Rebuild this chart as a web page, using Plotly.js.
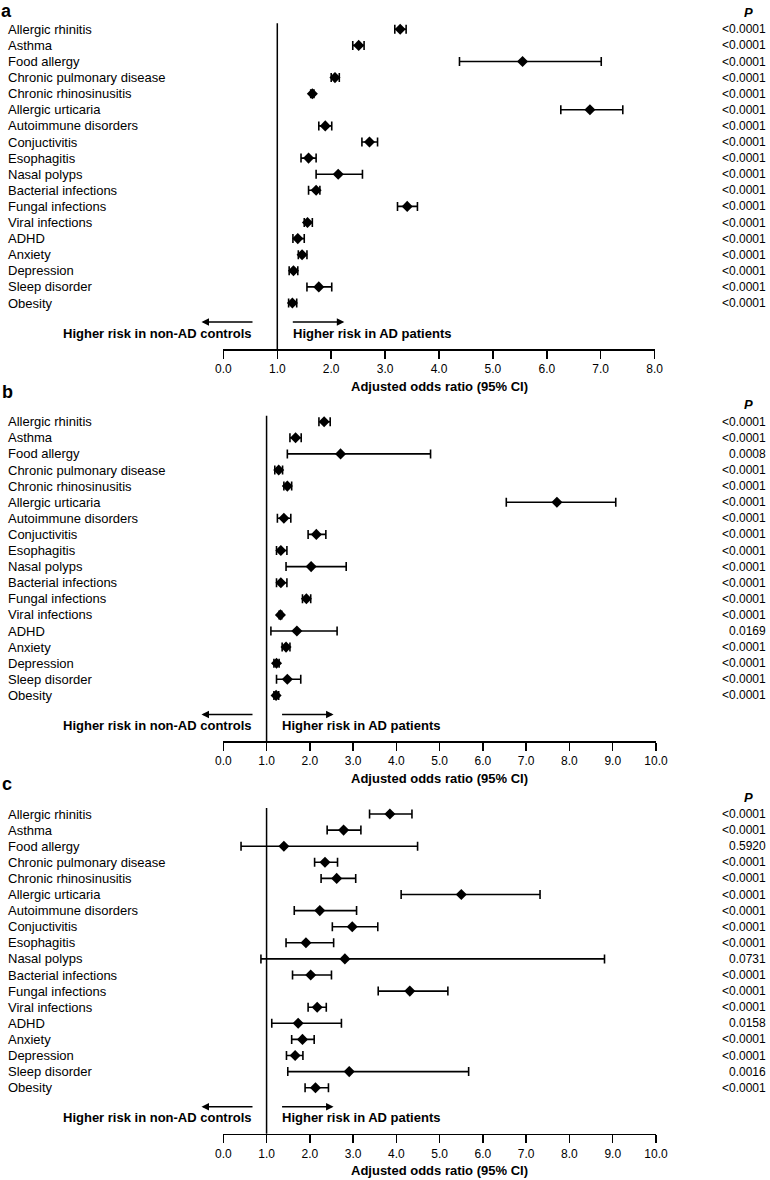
<!DOCTYPE html>
<html>
<head>
<meta charset="utf-8">
<script src="https://cdn.plot.ly/plotly-3.0.1.min.js"></script>
<style>html,body{margin:0;padding:0;background:#fff;}#chart{width:770px;height:1180px;}</style>
</head>
<body>
<div id="chart"></div>
<script>
// ---------------- DATA ----------------
const categories = ['Allergic rhinitis','Asthma','Food allergy','Chronic pulmonary disease','Chronic rhinosinusitis','Allergic urticaria','Autoimmune disorders','Conjuctivitis','Esophagitis','Nasal polyps','Bacterial infections','Fungal infections','Viral infections','ADHD','Anxiety','Depression','Sleep disorder','Obesity'];
const panelLetters = ['a','b','c'];
const xTickLabelsA = ['0.0','1.0','2.0','3.0','4.0','5.0','6.0','7.0','8.0'];
const xTickLabelsBC = ['0.0','1.0','2.0','3.0','4.0','5.0','6.0','7.0','8.0','9.0','10.0'];

const orA = [3.28,2.51,5.55,2.07,1.65,6.80,1.89,2.71,1.58,2.13,1.72,3.41,1.56,1.38,1.46,1.30,1.77,1.28];
const loA = [3.18,2.40,4.38,2.00,1.62,6.26,1.77,2.57,1.44,1.72,1.58,3.23,1.50,1.29,1.39,1.22,1.55,1.21];
const hiA = [3.39,2.61,7.01,2.15,1.68,7.41,2.01,2.86,1.72,2.58,1.79,3.60,1.65,1.50,1.55,1.38,2.01,1.36];
const pA  = ['<0.0001','<0.0001','<0.0001','<0.0001','<0.0001','<0.0001','<0.0001','<0.0001','<0.0001','<0.0001','<0.0001','<0.0001','<0.0001','<0.0001','<0.0001','<0.0001','<0.0001','<0.0001'];

const orB = [2.33,1.67,2.71,1.28,1.48,7.71,1.40,2.15,1.33,2.03,1.33,1.92,1.32,1.70,1.45,1.23,1.48,1.22];
const loB = [2.21,1.54,1.48,1.19,1.40,6.54,1.25,1.96,1.23,1.45,1.23,1.83,1.29,1.10,1.36,1.17,1.23,1.17];
const hiB = [2.47,1.80,4.79,1.37,1.58,9.07,1.56,2.37,1.47,2.84,1.47,2.02,1.35,2.63,1.54,1.29,1.79,1.28];
const pB  = ['<0.0001','<0.0001','0.0008','<0.0001','<0.0001','<0.0001','<0.0001','<0.0001','<0.0001','<0.0001','<0.0001','<0.0001','<0.0001','0.0169','<0.0001','<0.0001','<0.0001','<0.0001'];

const orC = [3.85,2.78,1.40,2.35,2.62,5.50,2.23,2.98,1.91,2.81,2.02,4.31,2.17,1.73,1.83,1.66,2.91,2.13];
const loC = [3.38,2.40,0.41,2.11,2.26,4.11,1.64,2.52,1.45,0.87,1.60,3.58,1.96,1.12,1.58,1.46,1.49,1.89];
const hiC = [4.36,3.18,4.49,2.64,3.06,7.32,3.08,3.57,2.55,8.81,2.50,5.19,2.38,2.73,2.10,1.84,5.67,2.43];
const pC  = ['<0.0001','<0.0001','0.5920','<0.0001','<0.0001','<0.0001','<0.0001','<0.0001','<0.0001','0.0731','<0.0001','<0.0001','<0.0001','0.0158','<0.0001','<0.0001','0.0016','<0.0001'];

const axisTitle = 'Adjusted odds ratio (95% CI)';
const leftArrowText = 'Higher risk in non-AD controls';
const rightArrowText = 'Higher risk in AD patients';
const pHeader = 'P';

// ---------------- LAYOUT ----------------
const W = 770, H = 1180;
const FONT = 'Liberation Sans, Arial, Helvetica, sans-serif';
const fx = px => px / W;
const fy = px => 1 - px / H;

const panels = [
  {or: orA, lo: loA, hi: hiA, p: pA, ticks: xTickLabelsA, r0: 29.3, x0: 223.4, x1: 654.6},
  {or: orB, lo: loB, hi: hiB, p: pB, ticks: xTickLabelsBC, r0: 421.7, x0: 223.3, x1: 656.0},
  {or: orC, lo: loC, hi: hiC, p: pC, ticks: xTickLabelsBC, r0: 814.0, x0: 223.3, x1: 656.0}
];
const STEP = 16.1;

const data = [];
const layout = {
  width: W, height: H,
  margin: {l: 0, r: 0, t: 0, b: 0},
  paper_bgcolor: '#ffffff', plot_bgcolor: 'rgba(0,0,0,0)',
  showlegend: false,
  font: {family: FONT, color: '#000', size: 12},
  shapes: [], annotations: []
};

panels.forEach((pn, k) => {
  const sfx = k === 0 ? '' : String(k + 1);
  const xa = 'x' + sfx, ya = 'y' + sfx;
  const n = categories.length;
  const lastRow = pn.r0 + (n - 1) * STEP;
  const top = pn.r0 - 6;
  const axisY = lastRow + 46;
  const rTop = -6 / STEP;
  const rBot = rTop + (axisY - top) / STEP;
  const xmax = pn.ticks.length - 1;
  const tickvals = pn.ticks.map((t, i) => i);

  data.push({
    type: 'scatter', mode: 'markers',
    x: pn.or, y: categories,
    xaxis: xa, yaxis: ya,
    cliponaxis: false,
    marker: {symbol: 'diamond', size: 8.5, color: '#000', line: {width: 0}},
    error_x: {
      type: 'data', symmetric: false,
      array: pn.hi.map((h, i) => h - pn.or[i]),
      arrayminus: pn.lo.map((l, i) => pn.or[i] - l),
      color: '#000', thickness: 1.6, width: 4.5
    },
    hoverinfo: 'skip'
  });

  layout['xaxis' + sfx] = {
    domain: [fx(pn.x0), fx(pn.x1)],
    anchor: ya,
    range: [0, xmax],
    tickvals: tickvals, ticktext: pn.ticks,
    ticks: 'outside', ticklen: 8, tickwidth: 1.5, tickcolor: '#000',
    showline: true, linewidth: 1.5, linecolor: '#000',
    showgrid: false, zeroline: false,
    tickfont: {family: FONT, size: 12, color: '#000'},
    fixedrange: true
  };
  layout['yaxis' + sfx] = {
    domain: [fy(axisY), fy(top)],
    anchor: xa,
    type: 'category', categoryarray: categories,
    range: [rBot, rTop],
    showticklabels: false, ticks: '', showline: false, showgrid: false, zeroline: false,
    fixedrange: true
  };

  // reference line at OR = 1
  layout.shapes.push({
    type: 'line', xref: xa, yref: ya + ' domain',
    x0: 1, x1: 1, y0: 0, y1: 1,
    line: {color: '#000', width: 1.5}
  });

  // row labels and P values
  categories.forEach((c, i) => {
    layout.annotations.push({
      text: c, xref: 'paper', yref: ya, x: fx(5.5), y: c,
      xanchor: 'left', yanchor: 'middle', showarrow: false,
      font: {family: FONT, size: 13, color: '#000'}
    });
    layout.annotations.push({
      text: pn.p[i], xref: 'paper', yref: ya, x: fx(767.5), y: c,
      xanchor: 'right', yanchor: 'middle', showarrow: false,
      font: {family: FONT, size: 12, color: '#000'}
    });
  });

  // P header
  layout.annotations.push({
    text: '<b><i>' + pHeader + '</i></b>', xref: 'paper', yref: 'paper',
    x: fx(748), y: fy(pn.r0 - 17), xanchor: 'center', yanchor: 'middle', showarrow: false,
    font: {family: FONT, size: 13, color: '#000'}
  });

  // panel letter
  if (k === 0) {
    layout.annotations.push({
      text: '<b>' + panelLetters[k] + '</b>', xref: 'paper', yref: 'paper',
      x: fx(0), y: 1, xanchor: 'left', yanchor: 'top', showarrow: false, borderpad: 0,
      font: {family: FONT, size: 18, color: '#000'}
    });
  } else {
    layout.annotations.push({
      text: '<b>' + panelLetters[k] + '</b>', xref: 'paper', yref: 'paper',
      x: fx(0), y: fy(pn.r0 - 30), xanchor: 'left', yanchor: 'middle', showarrow: false,
      font: {family: FONT, size: 18, color: '#000'}
    });
  }

  // arrows and their texts
  const x1px = pn.x0 + (pn.x1 - pn.x0) / xmax;
  const arrowY = lastRow + 19, textY = lastRow + 30;
  layout.annotations.push({
    text: '', xref: 'paper', yref: 'paper', x: fx(201.5), y: fy(arrowY),
    ax: 52.5, ay: 0, showarrow: true, arrowhead: 2, arrowsize: 1, arrowwidth: 1.5, arrowcolor: '#000'
  });
  layout.annotations.push({
    text: '', xref: 'paper', yref: 'paper', x: fx(x1px + 67), y: fy(arrowY),
    ax: -53, ay: 0, showarrow: true, arrowhead: 2, arrowsize: 1, arrowwidth: 1.5, arrowcolor: '#000'
  });
  layout.annotations.push({
    text: '<b>' + leftArrowText + '</b>', xref: 'paper', yref: 'paper',
    x: fx(254), y: fy(textY), xanchor: 'right', yanchor: 'middle', showarrow: false,
    font: {family: FONT, size: 13, color: '#000'}
  });
  layout.annotations.push({
    text: '<b>' + rightArrowText + '</b>', xref: 'paper', yref: 'paper',
    x: fx(x1px + 13.5), y: fy(textY), xanchor: 'left', yanchor: 'middle', showarrow: false,
    font: {family: FONT, size: 13, color: '#000'}
  });

  // axis title
  layout.annotations.push({
    text: '<b>' + axisTitle + '</b>', xref: 'paper', yref: 'paper',
    x: fx((pn.x0 + pn.x1) / 2), y: fy(axisY + 37), xanchor: 'center', yanchor: 'middle', showarrow: false,
    font: {family: FONT, size: 13, color: '#000'}
  });
});

Plotly.newPlot('chart', data, layout, {staticPlot: true, displayModeBar: false});
</script>
</body>
</html>
